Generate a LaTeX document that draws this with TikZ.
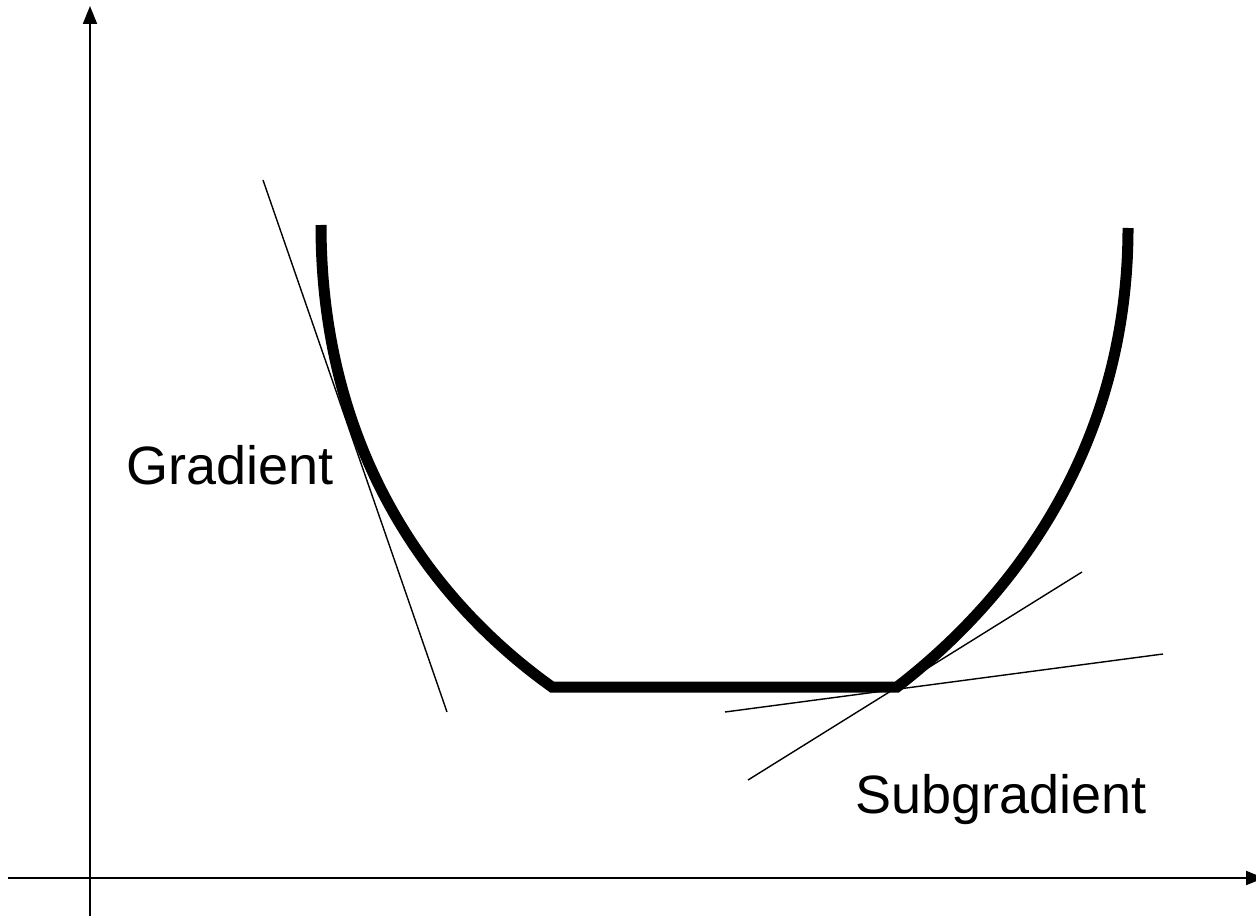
\documentclass[tikz,border=0pt]{standalone}
\usepackage{fontspec}
\setmainfont{Liberation Sans}
\usetikzlibrary{arrows.meta}
\begin{document}
\begin{tikzpicture}[x=0.5pt,y=-0.5pt,
  axis/.style={line width=1pt,-{Triangle[length=9pt,width=7pt]}},
  fcurve/.style={line width=5.5pt},
  tangent/.style={line width=0.7pt},
  lbl/.style={font=\fontsize{27pt}{30pt}\selectfont,inner sep=0pt}]
\useasboundingbox (0,0) rectangle (1256,919);
\coordinate (ybot) at (90,916);
\coordinate (ytop) at (90,6);
\coordinate (xleft) at (8,878);
\coordinate (xright) at (1264,878);
\draw[axis] (ybot) -- (ytop);
\draw[axis] (xleft) -- (xright);
\coordinate (a) at (321,225);
\coordinate (b) at (552,687);
\coordinate (c) at (897,687);
\coordinate (d) at (1128,228);
\draw[fcurve] (a) .. controls (321,450) and (430,600) .. (b) -- (c)
  .. controls (1010,600) and (1128,450) .. (d);
\coordinate (g1) at (263,180);
\coordinate (g2) at (447,712);
\draw[tangent] (g1) -- (g2);
\coordinate (s1) at (748,780);
\coordinate (s2) at (1082,572);
\coordinate (s3) at (725,712);
\coordinate (s4) at (1163,654);
\draw[tangent] (s1) -- (s2);
\draw[tangent] (s3) -- (s4);
\node[lbl] (grad) at (230,465) {Gradient};
\node[lbl] (subgrad) at (1001,800) {Subgradient};
\end{tikzpicture}
\end{document}
